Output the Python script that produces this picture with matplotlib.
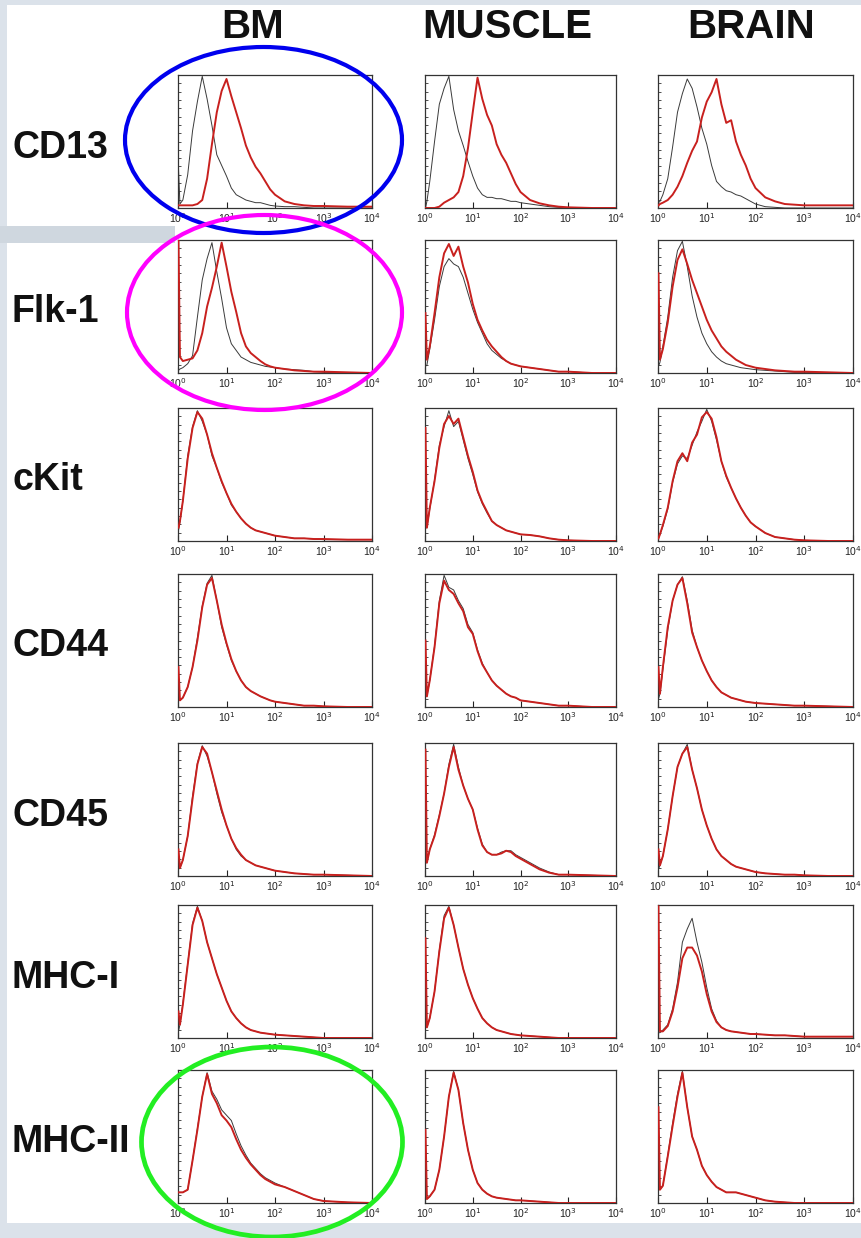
import numpy as np
import matplotlib
matplotlib.use("Agg")
import matplotlib.pyplot as plt
from matplotlib.patches import Rectangle, Ellipse
from matplotlib.ticker import MultipleLocator, LogLocator, NullFormatter

# ---------------- data ----------------
columns = ["BM", "MUSCLE", "BRAIN"]
markers = ["CD13", "Flk-1", "cKit", "CD44", "CD45", "MHC-I", "MHC-II"]
xtick_values = [1, 10, 100, 1000, 10000]
xtick_labels = ["10$^0$", "10$^1$", "10$^2$", "10$^3$", "10$^4$"]

# bin centres in decades of fluorescence intensity
decades = [0.01, 0.04, 0.1, 0.2, 0.3, 0.4, 0.5, 0.6, 0.7, 0.8, 0.9, 1.0,
           1.1, 1.2, 1.3, 1.4, 1.5, 1.6, 1.7, 1.8, 1.9, 2.0,
           2.2, 2.4, 2.6, 2.8, 3.0, 3.5, 4.0]

# relative cell counts: isotype control (black) and antibody (red)
cd13_bm_iso = [0.30, 0.03, 0.06, 0.25, 0.58, 0.80, 0.99, 0.82, 0.62, 0.40, 0.32, 0.24,
               0.15, 0.10, 0.08, 0.06, 0.05, 0.04, 0.04, 0.03, 0.02, 0.015,
               0.01, 0.01, 0.005, 0, 0, 0, 0]
cd13_bm_ab = [0.02, 0.02, 0.02, 0.02, 0.02, 0.03, 0.06, 0.22, 0.48, 0.72, 0.88, 0.97,
              0.84, 0.72, 0.60, 0.47, 0.38, 0.31, 0.26, 0.20, 0.14, 0.10,
              0.05, 0.03, 0.02, 0.015, 0.015, 0.01, 0.01]
cd13_mu_iso = [0.00, 0.05, 0.20, 0.50, 0.78, 0.90, 0.99, 0.74, 0.58, 0.47, 0.35, 0.24,
               0.15, 0.10, 0.08, 0.08, 0.07, 0.07, 0.06, 0.05, 0.05, 0.04,
               0.03, 0.02, 0.01, 0.005, 0, 0, 0]
cd13_mu_ab = [0, 0, 0, 0, 0.01, 0.04, 0.06, 0.08, 0.12, 0.24, 0.45, 0.72,
              0.98, 0.82, 0.70, 0.62, 0.48, 0.40, 0.34, 0.26, 0.18, 0.12,
              0.06, 0.035, 0.02, 0.01, 0.005, 0, 0]
cd13_br_iso = [0.04, 0.05, 0.10, 0.22, 0.46, 0.72, 0.86, 0.97, 0.90, 0.76, 0.60, 0.48,
               0.32, 0.20, 0.16, 0.13, 0.12, 0.10, 0.09, 0.07, 0.05, 0.03,
               0.01, 0.005, 0, 0, 0, 0, 0]
cd13_br_ab = [0.02, 0.03, 0.04, 0.06, 0.10, 0.16, 0.24, 0.34, 0.43, 0.50, 0.68, 0.80,
              0.87, 0.97, 0.78, 0.64, 0.66, 0.50, 0.40, 0.32, 0.22, 0.15,
              0.08, 0.05, 0.03, 0.025, 0.02, 0.02, 0.02]

flk_bm_iso = [0.02, 0.03, 0.04, 0.07, 0.13, 0.42, 0.70, 0.86, 0.98, 0.76, 0.56, 0.34,
              0.22, 0.17, 0.12, 0.10, 0.08, 0.07, 0.06, 0.05, 0.045, 0.04,
              0.03, 0.025, 0.02, 0.01, 0.005, 0, 0]
flk_bm_ab = [1.00, 0.12, 0.09, 0.10, 0.11, 0.17, 0.30, 0.50, 0.64, 0.80, 0.98, 0.80,
             0.61, 0.46, 0.30, 0.20, 0.15, 0.12, 0.09, 0.065, 0.05, 0.04,
             0.03, 0.02, 0.015, 0.01, 0.01, 0.005, 0]
flk_mu_iso = [0.05, 0.06, 0.18, 0.40, 0.65, 0.80, 0.86, 0.82, 0.80, 0.72, 0.60, 0.48,
              0.38, 0.30, 0.22, 0.17, 0.14, 0.11, 0.09, 0.07, 0.06, 0.05,
              0.04, 0.03, 0.02, 0.01, 0.01, 0, 0]
flk_mu_ab = [0.45, 0.10, 0.20, 0.45, 0.72, 0.90, 0.97, 0.88, 0.95, 0.80, 0.68, 0.52,
             0.40, 0.32, 0.25, 0.20, 0.16, 0.12, 0.09, 0.07, 0.06, 0.05,
             0.04, 0.03, 0.02, 0.01, 0.01, 0, 0]
flk_br_iso = [0.05, 0.08, 0.20, 0.42, 0.72, 0.92, 0.99, 0.80, 0.58, 0.42, 0.30, 0.22,
              0.16, 0.12, 0.09, 0.07, 0.06, 0.05, 0.04, 0.035, 0.03, 0.025,
              0.02, 0.015, 0.01, 0.005, 0.005, 0, 0]
flk_br_ab = [0.75, 0.10, 0.18, 0.38, 0.65, 0.85, 0.93, 0.82, 0.70, 0.60, 0.50, 0.40,
             0.32, 0.26, 0.20, 0.16, 0.13, 0.10, 0.08, 0.06, 0.05, 0.04,
             0.03, 0.02, 0.015, 0.01, 0.01, 0.005, 0]

ckit_bm_iso = [0.08, 0.14, 0.30, 0.64, 0.86, 0.98, 0.90, 0.80, 0.64, 0.55, 0.44, 0.36,
               0.27, 0.22, 0.17, 0.13, 0.10, 0.08, 0.07, 0.06, 0.05, 0.04,
               0.03, 0.02, 0.02, 0.015, 0.01, 0.01, 0.01]
ckit_bm_ab = [0.10, 0.15, 0.30, 0.62, 0.85, 0.97, 0.92, 0.80, 0.66, 0.55, 0.45, 0.36,
              0.28, 0.22, 0.17, 0.13, 0.10, 0.08, 0.07, 0.06, 0.05, 0.04,
              0.03, 0.02, 0.02, 0.015, 0.015, 0.01, 0.01]
ckit_mu_iso = [0.10, 0.10, 0.24, 0.46, 0.72, 0.86, 0.98, 0.86, 0.90, 0.76, 0.62, 0.50,
               0.37, 0.28, 0.21, 0.15, 0.12, 0.10, 0.08, 0.07, 0.06, 0.05,
               0.045, 0.035, 0.02, 0.01, 0.005, 0, 0]
ckit_mu_ab = [0.85, 0.10, 0.25, 0.45, 0.70, 0.88, 0.94, 0.88, 0.92, 0.78, 0.64, 0.52,
              0.38, 0.29, 0.22, 0.15, 0.12, 0.10, 0.08, 0.07, 0.06, 0.05,
              0.045, 0.035, 0.02, 0.01, 0.005, 0, 0]
ckit_br_iso = [0.02, 0.05, 0.11, 0.24, 0.44, 0.58, 0.64, 0.62, 0.72, 0.82, 0.90, 0.99,
               0.90, 0.76, 0.60, 0.48, 0.40, 0.32, 0.25, 0.19, 0.14, 0.11,
               0.06, 0.03, 0.02, 0.01, 0.005, 0, 0]
ckit_br_ab = [0.02, 0.05, 0.12, 0.25, 0.45, 0.60, 0.66, 0.60, 0.74, 0.80, 0.93, 0.97,
              0.92, 0.78, 0.60, 0.49, 0.40, 0.32, 0.25, 0.19, 0.14, 0.11,
              0.06, 0.03, 0.02, 0.01, 0.005, 0, 0]

cd44_bm_iso = [0.05, 0.05, 0.07, 0.15, 0.30, 0.52, 0.76, 0.93, 0.99, 0.80, 0.60, 0.47,
               0.35, 0.27, 0.20, 0.15, 0.12, 0.10, 0.08, 0.065, 0.05, 0.04,
               0.03, 0.02, 0.01, 0.01, 0.005, 0, 0]
cd44_bm_ab = [0.30, 0.05, 0.07, 0.15, 0.30, 0.50, 0.75, 0.92, 0.97, 0.80, 0.62, 0.48,
              0.36, 0.27, 0.20, 0.15, 0.12, 0.10, 0.08, 0.065, 0.05, 0.04,
              0.03, 0.02, 0.01, 0.01, 0.005, 0, 0]
cd44_mu_iso = [0.08, 0.08, 0.20, 0.46, 0.80, 0.99, 0.90, 0.88, 0.80, 0.74, 0.62, 0.56,
               0.43, 0.33, 0.26, 0.20, 0.16, 0.13, 0.10, 0.08, 0.07, 0.05,
               0.04, 0.03, 0.02, 0.01, 0.01, 0, 0]
cd44_mu_ab = [0.50, 0.08, 0.20, 0.45, 0.78, 0.95, 0.88, 0.85, 0.78, 0.72, 0.60, 0.55,
              0.42, 0.32, 0.26, 0.20, 0.16, 0.13, 0.10, 0.08, 0.07, 0.05,
              0.04, 0.03, 0.02, 0.01, 0.01, 0, 0]
cd44_br_iso = [0.06, 0.10, 0.28, 0.58, 0.80, 0.92, 0.98, 0.80, 0.58, 0.45, 0.35, 0.27,
               0.20, 0.15, 0.11, 0.09, 0.07, 0.06, 0.05, 0.04, 0.035, 0.03,
               0.025, 0.02, 0.015, 0.01, 0.01, 0.005, 0]
cd44_br_ab = [0.30, 0.10, 0.30, 0.60, 0.80, 0.92, 0.97, 0.78, 0.56, 0.45, 0.35, 0.27,
              0.20, 0.15, 0.11, 0.09, 0.07, 0.06, 0.05, 0.04, 0.035, 0.03,
              0.025, 0.02, 0.015, 0.01, 0.01, 0.005, 0]

cd45_bm_iso = [0.05, 0.06, 0.12, 0.30, 0.60, 0.85, 0.98, 0.90, 0.78, 0.62, 0.48, 0.38,
               0.28, 0.20, 0.15, 0.12, 0.10, 0.08, 0.07, 0.06, 0.05, 0.04,
               0.03, 0.02, 0.015, 0.01, 0.01, 0.005, 0]
cd45_bm_ab = [0.20, 0.06, 0.12, 0.30, 0.58, 0.84, 0.97, 0.92, 0.78, 0.64, 0.50, 0.38,
              0.28, 0.21, 0.16, 0.12, 0.10, 0.08, 0.07, 0.06, 0.05, 0.04,
              0.03, 0.02, 0.015, 0.01, 0.01, 0.005, 0]
cd45_mu_iso = [0.10, 0.10, 0.20, 0.31, 0.46, 0.62, 0.84, 0.99, 0.82, 0.68, 0.58, 0.50,
               0.36, 0.24, 0.18, 0.16, 0.16, 0.18, 0.19, 0.19, 0.16, 0.14,
               0.10, 0.06, 0.03, 0.01, 0.01, 0.005, 0]
cd45_mu_ab = [0.95, 0.10, 0.20, 0.30, 0.45, 0.62, 0.82, 0.97, 0.80, 0.68, 0.58, 0.50,
              0.35, 0.23, 0.18, 0.16, 0.16, 0.17, 0.19, 0.18, 0.15, 0.13,
              0.09, 0.05, 0.025, 0.01, 0.01, 0.005, 0]
cd45_br_iso = [0.05, 0.08, 0.15, 0.35, 0.60, 0.82, 0.92, 0.99, 0.80, 0.66, 0.50, 0.38,
               0.28, 0.20, 0.15, 0.12, 0.09, 0.07, 0.06, 0.05, 0.04, 0.03,
               0.02, 0.015, 0.01, 0.01, 0.005, 0, 0]
cd45_br_ab = [0.20, 0.08, 0.15, 0.35, 0.60, 0.82, 0.92, 0.97, 0.80, 0.66, 0.50, 0.38,
              0.28, 0.20, 0.15, 0.12, 0.09, 0.07, 0.06, 0.05, 0.04, 0.03,
              0.02, 0.015, 0.01, 0.01, 0.005, 0, 0]

mhc1_bm_iso = [0.05, 0.10, 0.26, 0.56, 0.86, 0.99, 0.88, 0.72, 0.60, 0.48, 0.38, 0.28,
               0.20, 0.15, 0.11, 0.08, 0.06, 0.05, 0.04, 0.035, 0.03, 0.025,
               0.02, 0.015, 0.01, 0.005, 0, 0, 0]
mhc1_bm_ab = [0.20, 0.10, 0.25, 0.55, 0.85, 0.98, 0.88, 0.72, 0.60, 0.48, 0.38, 0.28,
              0.20, 0.15, 0.11, 0.08, 0.06, 0.05, 0.04, 0.035, 0.03, 0.025,
              0.02, 0.015, 0.01, 0.005, 0, 0, 0]
mhc1_mu_iso = [0.08, 0.08, 0.15, 0.35, 0.66, 0.92, 0.99, 0.85, 0.68, 0.52, 0.40, 0.30,
               0.22, 0.15, 0.11, 0.08, 0.06, 0.05, 0.04, 0.03, 0.025, 0.02,
               0.015, 0.01, 0.005, 0, 0, 0, 0]
mhc1_mu_ab = [0.75, 0.08, 0.15, 0.35, 0.65, 0.90, 0.98, 0.85, 0.68, 0.52, 0.40, 0.30,
              0.22, 0.15, 0.11, 0.08, 0.06, 0.05, 0.04, 0.03, 0.025, 0.02,
              0.015, 0.01, 0.005, 0, 0, 0, 0]
mhc1_br_iso = [0.04, 0.04, 0.06, 0.10, 0.22, 0.42, 0.72, 0.82, 0.90, 0.72, 0.57, 0.38,
               0.22, 0.13, 0.08, 0.06, 0.05, 0.045, 0.04, 0.035, 0.03, 0.03,
               0.025, 0.02, 0.02, 0.015, 0.01, 0.01, 0.01]
mhc1_br_ab = [0.99, 0.05, 0.05, 0.09, 0.20, 0.38, 0.60, 0.68, 0.68, 0.62, 0.50, 0.33,
              0.20, 0.12, 0.08, 0.06, 0.05, 0.045, 0.04, 0.035, 0.03, 0.03,
              0.025, 0.02, 0.02, 0.015, 0.01, 0.01, 0.01]

mhc2_bm_iso = [0.08, 0.08, 0.08, 0.10, 0.32, 0.56, 0.80, 0.98, 0.84, 0.78, 0.70, 0.66,
               0.62, 0.52, 0.43, 0.36, 0.30, 0.26, 0.22, 0.19, 0.17, 0.15,
               0.12, 0.09, 0.06, 0.03, 0.015, 0.005, 0]
mhc2_bm_ab = [0.08, 0.08, 0.08, 0.10, 0.32, 0.55, 0.80, 0.97, 0.82, 0.75, 0.66, 0.62,
              0.57, 0.48, 0.40, 0.34, 0.29, 0.25, 0.21, 0.18, 0.16, 0.14,
              0.12, 0.09, 0.06, 0.03, 0.015, 0.005, 0]
mhc2_mu_iso = [0.05, 0.03, 0.05, 0.10, 0.25, 0.50, 0.80, 0.99, 0.85, 0.60, 0.40, 0.25,
               0.15, 0.10, 0.07, 0.05, 0.04, 0.035, 0.03, 0.025, 0.02, 0.02,
               0.015, 0.01, 0.005, 0, 0, 0, 0]
mhc2_mu_ab = [0.55, 0.03, 0.05, 0.10, 0.25, 0.50, 0.80, 0.98, 0.85, 0.60, 0.40, 0.25,
              0.15, 0.10, 0.07, 0.05, 0.04, 0.035, 0.03, 0.025, 0.02, 0.02,
              0.015, 0.01, 0.005, 0, 0, 0, 0]
mhc2_br_iso = [0.10, 0.10, 0.13, 0.36, 0.60, 0.82, 0.99, 0.72, 0.50, 0.40, 0.28, 0.21,
               0.16, 0.12, 0.10, 0.08, 0.08, 0.08, 0.07, 0.06, 0.05, 0.04,
               0.02, 0.01, 0.005, 0, 0, 0, 0]
mhc2_br_ab = [0.72, 0.10, 0.13, 0.35, 0.58, 0.80, 0.98, 0.72, 0.50, 0.40, 0.28, 0.21,
              0.16, 0.12, 0.10, 0.08, 0.08, 0.08, 0.07, 0.06, 0.05, 0.04,
              0.02, 0.01, 0.005, 0, 0, 0, 0]

grid_iso = [[cd13_bm_iso, cd13_mu_iso, cd13_br_iso],
            [flk_bm_iso, flk_mu_iso, flk_br_iso],
            [ckit_bm_iso, ckit_mu_iso, ckit_br_iso],
            [cd44_bm_iso, cd44_mu_iso, cd44_br_iso],
            [cd45_bm_iso, cd45_mu_iso, cd45_br_iso],
            [mhc1_bm_iso, mhc1_mu_iso, mhc1_br_iso],
            [mhc2_bm_iso, mhc2_mu_iso, mhc2_br_iso]]
grid_ab = [[cd13_bm_ab, cd13_mu_ab, cd13_br_ab],
           [flk_bm_ab, flk_mu_ab, flk_br_ab],
           [ckit_bm_ab, ckit_mu_ab, ckit_br_ab],
           [cd44_bm_ab, cd44_mu_ab, cd44_br_ab],
           [cd45_bm_ab, cd45_mu_ab, cd45_br_ab],
           [mhc1_bm_ab, mhc1_mu_ab, mhc1_br_ab],
           [mhc2_bm_ab, mhc2_mu_ab, mhc2_br_ab]]

# ---------------- layout ----------------
W, H = 861, 1238
fig = plt.figure(figsize=(W / 100, H / 100), dpi=100)
fig.patch.set_facecolor("#dbe2ea")

def frect(left, top, right, bottom):
    return [left / W, 1 - bottom / H, (right - left) / W, (bottom - top) / H]

def fpt(x, y):
    return (x / W, 1 - y / H)

# white slide area
l, b, w, h = frect(7, 5, 861, 1223)
fig.add_artist(Rectangle((l, b), w, h, transform=fig.transFigure,
                         facecolor="white", edgecolor="none", zorder=-10))
l, b, w, h = frect(0, 226, 175, 243)
fig.add_artist(Rectangle((l, b), w, h, transform=fig.transFigure,
                         facecolor="#cfd7df", edgecolor="none", zorder=-9))

col_x = [(178, 372), (425, 616), (658, 853)]
row_top = [75, 240, 408, 574, 743, 905, 1070]
panel_h = 133

intensity = 10 ** np.array(decades)
FONT = ["Liberation Sans", "DejaVu Sans"]

for r in range(len(markers)):
    for c in range(len(columns)):
        x0, x1 = col_x[c]
        t = row_top[r]
        ax = fig.add_axes(frect(x0, t, x1, t + panel_h))
        ax.set_facecolor("white")
        ax.plot(intensity, grid_iso[r][c], color="#3a3a3a", lw=0.7, zorder=2)
        ax.plot(intensity, grid_ab[r][c], color="#c8201e", lw=1.4, zorder=3)
        ax.set_xscale("log")
        ax.set_xlim(1, 10000)
        ax.set_ylim(0, 1.0)
        ax.set_xticks(xtick_values)
        ax.set_xticklabels(xtick_labels, fontsize=7.5, color="#222222", family=FONT)
        ax.xaxis.set_minor_locator(LogLocator(base=10, subs=np.arange(2, 10)))
        ax.xaxis.set_minor_formatter(NullFormatter())
        ax.yaxis.set_major_locator(MultipleLocator(1 / 16))
        ax.set_yticklabels([])
        ax.tick_params(axis="x", which="major", direction="in", length=4, width=0.8,
                       pad=2, colors="#222222")
        ax.tick_params(axis="x", which="minor", direction="in", length=2.2, width=0.6,
                       colors="#222222")
        ax.tick_params(axis="y", which="major", direction="in", length=2.5, width=0.6,
                       colors="#333333")
        for s in ax.spines.values():
            s.set_linewidth(0.9)
            s.set_color("#333333")

# column titles
title_x = [253, 507, 751]
for c, name in enumerate(columns):
    fig.text(*fpt(title_x[c], 38), name, ha="center", va="baseline",
             fontsize=29, fontweight="bold", family=FONT, color="#111111")

# row labels
for r, name in enumerate(markers):
    yb = row_top[r] + panel_h / 2 + 16
    fig.text(*fpt(12, yb), name, ha="left", va="baseline",
             fontsize=27, fontweight="bold", family=FONT, color="#111111")

# highlight ellipses
ellipses = [((263.5, 140), 277, 186, "#0000ee", 3.0),
            ((264.5, 312.5), 275, 195, "#ff00ff", 3.0),
            ((272, 1142), 261, 190, "#22ee22", 3.4)]
for (cx, cy), ew, eh, col, lw in ellipses:
    fig.add_artist(Ellipse(fpt(cx, cy), ew / W, eh / H, transform=fig.transFigure,
                           fill=False, edgecolor=col, lw=lw, zorder=20))

fig.savefig("out.png", dpi=100, facecolor=fig.get_facecolor())
